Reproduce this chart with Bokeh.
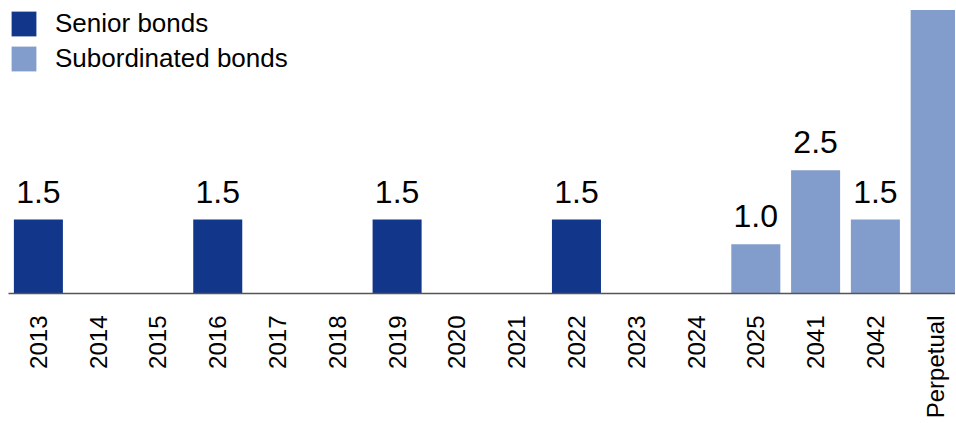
import math
import numpy as np
from bokeh.plotting import figure
from bokeh.models import ColumnDataSource, Range1d, FixedTicker, Legend, LegendItem
from bokeh.core.properties import value
from bokeh.embed import file_html
from bokeh.resources import INLINE

# ---- data ----
categories = ["2013", "2014", "2015", "2016", "2017", "2018", "2019", "2020",
              "2021", "2022", "2023", "2024", "2025", "2041", "2042", "Perpetual"]
senior = [1.5, 0, 0, 1.5, 0, 0, 1.5, 0, 0, 1.5, 0, 0, 0, 0, 0, 0]
subordinated = [0, 0, 0, 0, 0, 0, 0, 0, 0, 0, 0, 0, 1.0, 2.5, 1.5, 5.75]
series_names = ["Senior bonds", "Subordinated bonds"]
colors = ["#12368A", "#829CCB"]
label_hidden = ["Perpetual"]  # its label is cut off in the original

FONT = "Liberation Sans"

pos = np.arange(len(categories)) + 0.5

p = figure(output_backend="svg", toolbar_location=None,
           frame_width=947, frame_height=285,
           x_range=Range1d(0, 15.84), y_range=Range1d(0, 5.78),
           min_border_left=8, min_border_right=0, min_border_top=8, min_border_bottom=0)

renderers = []
for name, vals, col in zip(series_names, [senior, subordinated], colors):
    vals = np.array(vals, dtype=float)
    mask = vals > 0
    src = ColumnDataSource(dict(x=pos[mask], top=vals[mask]))
    r = p.vbar(x="x", top="top", width=0.82, source=src, fill_color=col, line_color=None)
    renderers.append((name, r))

# value labels
lx, ly, lt = [], [], []
for i, c in enumerate(categories):
    v = senior[i] + subordinated[i]
    if v > 0 and c not in label_hidden:
        lx.append(pos[i]); ly.append(v); lt.append(f"{v:.1f}")
p.text(x=lx, y=ly, text=lt, text_align="center", text_baseline="alphabetic",
       y_offset=-28, text_font=value(FONT), text_font_size="32px", text_color="black")

legend = Legend(items=[LegendItem(label=n, renderers=[r]) for n, r in renderers],
                location="top_left", margin=0, padding=0, spacing=4,
                glyph_width=31, glyph_height=31, label_height=31, label_standoff=16,
                label_text_font=FONT, label_text_font_size="26px", label_text_color="black",
                background_fill_alpha=0, border_line_color=None)
p.add_layout(legend)

p.xaxis.ticker = FixedTicker(ticks=list(pos))
p.xaxis.major_label_overrides = {float(x): c for x, c in zip(pos, categories)}
p.xaxis.major_label_orientation = math.pi / 2
p.xaxis.major_label_text_font = FONT
p.xaxis.major_label_text_font_size = "24px"
p.xaxis.major_label_text_color = "black"
p.xaxis.major_label_standoff = 16
p.xaxis.major_tick_line_color = None
p.xaxis.minor_tick_line_color = None
p.xaxis.axis_line_color = "#555555"
p.xaxis.axis_line_width = 1.5
p.yaxis.visible = False
p.grid.visible = False
p.outline_line_color = None

open("out.html", "w").write(file_html(p, INLINE))
